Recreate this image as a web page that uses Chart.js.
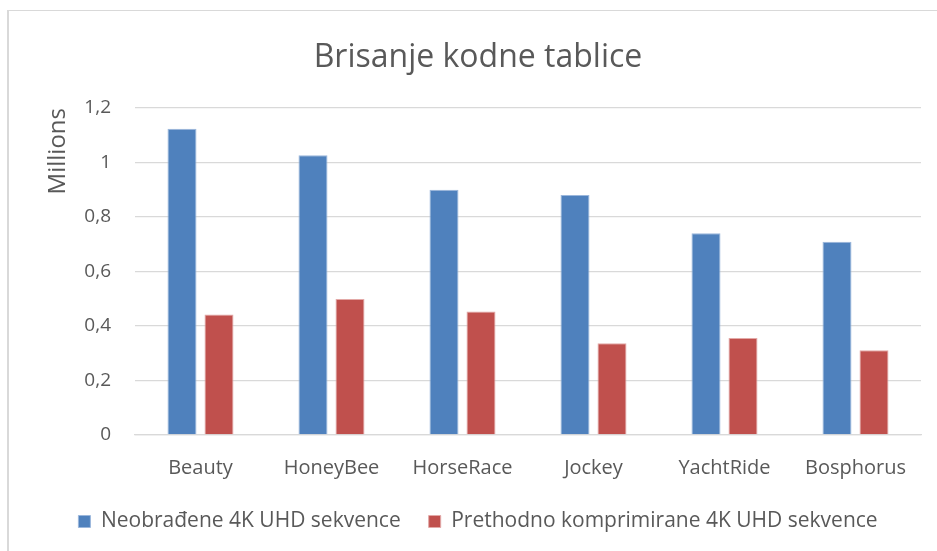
<!DOCTYPE html>
<html>
<head>
<meta charset="utf-8">
<script src="https://cdn.jsdelivr.net/npm/chart.js@4"></script>
<style>
    body { margin: 0; background: #fff; }
    #wrap { position: relative; width: 937px; height: 551px; overflow: hidden; }
    #frame { position: absolute; left: 7px; top: 10px; width: 960px; height: 580px;
             border-left: 2px solid #d9d9d9; border-top: 1px solid #d9d9d9; }
    canvas { position: absolute; left: 0; top: 0; }
</style>
</head>
<body>
<div id="wrap">
    <div id="frame"></div>
    <canvas id="GraficoBrisanje" width="937" height="551"></canvas>
</div>
<script>
const kategorije = ['Beauty', 'HoneyBee', 'HorseRace', 'Jockey', 'YachtRide', 'Bosphorus'];
const neobradjene = [1.124, 1.027, 0.900, 0.881, 0.740, 0.709];
const komprimirane = [0.442, 0.499, 0.453, 0.337, 0.356, 0.311];
const yTicks = [0, 0.2, 0.4, 0.6, 0.8, 1, 1.2];

document.addEventListener('DOMContentLoaded', function(){
    const sivo = '#595959';
    const font = "'Open Sans', 'Noto Sans', sans-serif";
    Chart.defaults.font.family = font;
    Chart.defaults.color = sivo;

    const ctx = document.getElementById('GraficoBrisanje').getContext('2d');
    new Chart(ctx, {
        type: 'bar',
        data: {
            labels: kategorije,
            datasets: [{
                label: 'Neobrađene 4K UHD sekvence',
                data: neobradjene,
                backgroundColor: '#4f81bd',
                borderColor: '#9bb7dc',
                borderWidth: 1
            }, {
                label: 'Prethodno komprimirane 4K UHD sekvence',
                data: komprimirane,
                backgroundColor: '#c0504d',
                borderColor: '#e3a9a7',
                borderWidth: 1
            }]
        },
        options: {
            responsive: false,
            animation: false,
            categoryPercentage: 0.565,
            barPercentage: 0.784,
            layout: { padding: { left: 35, right: 16, top: 0, bottom: 9 } },
            plugins: {
                title: {
                    display: true,
                    text: 'Brisanje kodne tablice',
                    color: sivo,
                    font: { size: 32, weight: 'normal' },
                    padding: { top: 39, bottom: 30.6 }
                },
                legend: {
                    position: 'bottom',
                    labels: {
                        boxWidth: 12,
                        boxHeight: 12,
                        padding: 28,
                        color: sivo,
                        font: { size: 21 }
                    }
                },
                tooltip: { enabled: false }
            },
            scales: {
                y: {
                    min: 0,
                    max: 1.2,
                    afterBuildTicks: axis => { axis.ticks = yTicks.map(v => ({ value: v })); },
                    afterFit: axis => { axis.width = 100; },
                    ticks: {
                        padding: 24,
                        color: sivo,
                        font: { size: 19 },
                        callback: v => (Math.round(v * 10) / 10).toString().replace('.', ',')
                    },
                    grid: { color: '#d9d9d9', lineWidth: 1.3, drawTicks: false },
                    border: { display: false },
                    title: {
                        display: true,
                        text: 'Millions',
                        align: 'end',
                        color: sivo,
                        font: { size: 24 },
                        padding: { top: 9, bottom: 0 }
                    }
                },
                x: {
                    afterFit: axis => { axis.height = 48; },
                    ticks: {
                        padding: 21,
                        color: sivo,
                        font: { size: 20 }
                    },
                    grid: { display: false, drawTicks: false },
                    border: { display: true, color: '#d9d9d9', width: 1.3 }
                }
            }
        }
    });
});
</script>
</body>
</html>
